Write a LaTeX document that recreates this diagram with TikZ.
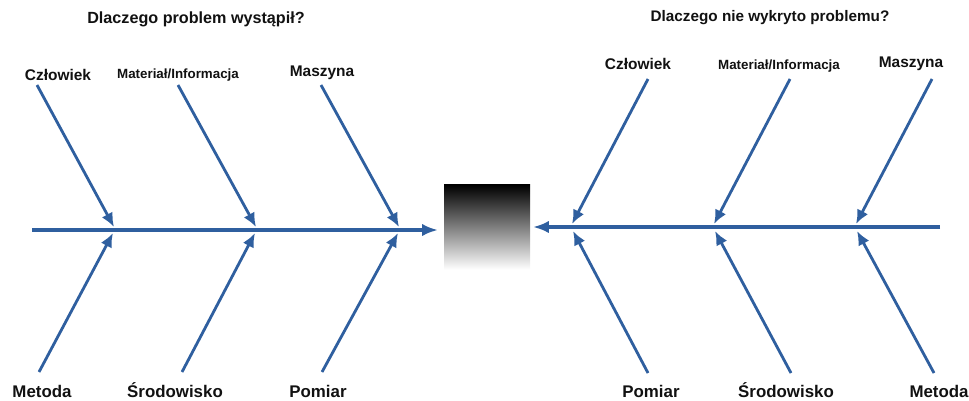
\documentclass[tikz,border=0pt]{standalone}
\usepackage{fontspec}
\setmainfont{Liberation Sans}
\usepackage{tikz}
\usetikzlibrary{arrows.meta, positioning, calc}
\definecolor{boneblue}{HTML}{2F5F9F}
\definecolor{inkblack}{HTML}{111111}

\begin{document}
\begin{tikzpicture}[x=0.02cm, y=-0.02cm,
    title/.style={font=\bfseries\fontsize{9.2}{11}\selectfont, text=inkblack},
    causetop/.style={font=\bfseries\fontsize{8.8}{10}\selectfont, text=inkblack, inner sep=0pt},
    causebot/.style={font=\bfseries\fontsize{9.6}{11}\selectfont, text=inkblack, inner sep=0pt},
    spine/.style={draw=boneblue, line width=2.2pt, -{Latex[length=9pt, width=7pt]}},
    bone/.style={draw=boneblue, line width=1.6pt, -{Latex[length=8pt, width=7pt]}}]

    \useasboundingbox (0,0) rectangle (969,400);

    % titles
    \node (titleL) [title] at (196,19) {Dlaczego problem wystąpił?};
    \node (titleR) [title, font=\bfseries\fontsize{8.7}{10}\selectfont] at (770,18) {Dlaczego nie wykryto problemu?};

    % effect box
    \node (effect) [rectangle, minimum width=1.72cm, minimum height=1.7cm, inner sep=0pt,
      top color=black, bottom color=white] at (487,227) {};

    % left fishbone
    \coordinate (spineLs) at (32,230);
    \coordinate (spineLe) at (438,230);
    \draw [spine] (spineLs) -- (spineLe);

    \node (lczl) [causetop] at (58,75) {Człowiek};
    \node (lmat) [causetop, font=\bfseries\fontsize{7.6}{9}\selectfont] at (178,75) {Materiał/Informacja};
    \node (lmas) [causetop] at (322,73) {Maszyna};
    \node (lmet) [causebot] at (42,391) {Metoda};
    \node (lsro) [causebot] at (175,390) {Środowisko};
    \node (lpom) [causebot] at (318,391) {Pomiar};

    \coordinate (lczlA) at (37,85);   \coordinate (lczlB) at (114,227);
    \coordinate (lmatA) at (178,85);  \coordinate (lmatB) at (256,227);
    \coordinate (lmasA) at (321,85);  \coordinate (lmasB) at (399,227);
    \coordinate (lmetA) at (39,372);  \coordinate (lmetB) at (113,233);
    \coordinate (lsroA) at (182,372); \coordinate (lsroB) at (255,233);
    \coordinate (lpomA) at (322,372); \coordinate (lpomB) at (398,233);

    \foreach \c in {lczl, lmat, lmas, lmet, lsro, lpom}
      \draw [bone] (\c A) -- (\c B);

    % right fishbone
    \coordinate (spineRs) at (940,227);
    \coordinate (spineRe) at (533,227);
    \draw [spine] (spineRs) -- (spineRe);

    \node (rczl) [causetop] at (638,64) {Człowiek};
    \node (rmat) [causetop, font=\bfseries\fontsize{7.6}{9}\selectfont] at (779,66) {Materiał/Informacja};
    \node (rmas) [causetop] at (911,64) {Maszyna};
    \node (rpom) [causebot] at (651,391) {Pomiar};
    \node (rsro) [causebot] at (786,390) {Środowisko};
    \node (rmet) [causebot] at (939,391) {Metoda};

    \coordinate (rczlA) at (648,79);  \coordinate (rczlB) at (572,224);
    \coordinate (rmatA) at (790,79);  \coordinate (rmatB) at (714,224);
    \coordinate (rmasA) at (932,79);  \coordinate (rmasB) at (856,224);
    \coordinate (rpomA) at (648,373); \coordinate (rpomB) at (573,231);
    \coordinate (rsroA) at (791,373); \coordinate (rsroB) at (715,231);
    \coordinate (rmetA) at (934,373); \coordinate (rmetB) at (857,231);

    \foreach \c in {rczl, rmat, rmas, rpom, rsro, rmet}
      \draw [bone] (\c A) -- (\c B);
\end{tikzpicture}
\end{document}
